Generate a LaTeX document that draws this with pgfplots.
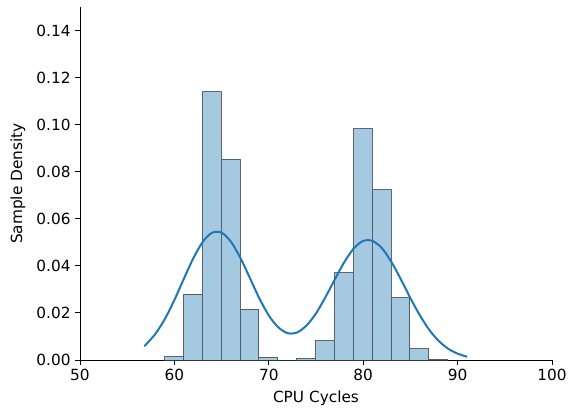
\documentclass[border=0pt]{standalone}
\usepackage{fontspec}
\setmainfont{DejaVu Sans}
\usepackage{pgfplots}
\pgfplotsset{compat=1.18}
\definecolor{cblue}{HTML}{1F77B4}
\definecolor{edgec}{RGB}{60,68,78}
\begin{document}
\begin{tikzpicture}
\begin{axis}[
  name=ax,
  scale only axis,
  width=354pt, height=264.75pt,
  xmin=50, xmax=100, ymin=0, ymax=0.15,
  axis lines*=left,
  axis line style={line width=0.7pt, black},
  xtick={50,60,70,80,90,100},
  ytick={0,0.02,0.04,0.06,0.08,0.10,0.12,0.14},
  yticklabel style={/pgf/number format/fixed, /pgf/number format/fixed zerofill, /pgf/number format/precision=2},
  scaled y ticks=false,
  /pgf/number format/assume math mode=true,
  tick align=outside,
  major tick length=3.5pt,
  tick style={black, line width=0.7pt},
  ticklabel style={font=\fontsize{11.5}{13}\selectfont},
  label style={font=\fontsize{11.5}{13}\selectfont},
  xlabel={CPU Cycles},
  ylabel={Sample Density},
  xlabel style={at={(rel axis cs:0.5,0)}, anchor=center, yshift=-28.5pt},
  ylabel style={at={([xshift=-46.5pt]rel axis cs:0,0.5)}, anchor=center},
  clip=false,
]
\addplot[ybar interval, fill=cblue, fill opacity=0.4, draw=edgec, draw opacity=0.8, line width=0.7pt] coordinates {
(58.95,0.0014) (60.95,0.0280) (62.95,0.1139) (64.95,0.0854) (66.95,0.0216)
(68.95,0.0011) (70.95,0.0000) (72.95,0.0007) (74.95,0.0081) (76.95,0.0370)
(78.95,0.0982) (80.95,0.0723) (82.95,0.0264) (84.95,0.0048) (86.95,0.0004)
(88.95,0.0004)
};
\addplot[cblue, line width=1.5pt, smooth, no markers] coordinates {
(56.8,0.0059) (57,0.0066) (58,0.0112) (59,0.0175) (60,0.0255) (61,0.0345)
(62,0.0432) (63,0.0502) (64,0.0541) (65,0.0541) (66,0.0502) (67,0.0433)
(68,0.0348) (69,0.0262) (70,0.0189) (71,0.0139) (72,0.0114) (73,0.0117)
(74,0.0147) (75,0.0198) (76,0.0267) (77,0.0343) (78,0.0416) (79,0.0474)
(80,0.0506) (81,0.0506) (82,0.0474) (83,0.0416) (84,0.0342) (85,0.0263)
(86,0.0190) (87,0.0128) (88,0.0081) (89,0.0048) (90,0.0027) (91,0.0014)
};
\end{axis}
\pgfresetboundingbox
\path ([shift={(-60pt,-39.75pt)}]ax.south west) rectangle ([shift={(12.75pt,5.25pt)}]ax.north east);
\end{tikzpicture}
\end{document}
